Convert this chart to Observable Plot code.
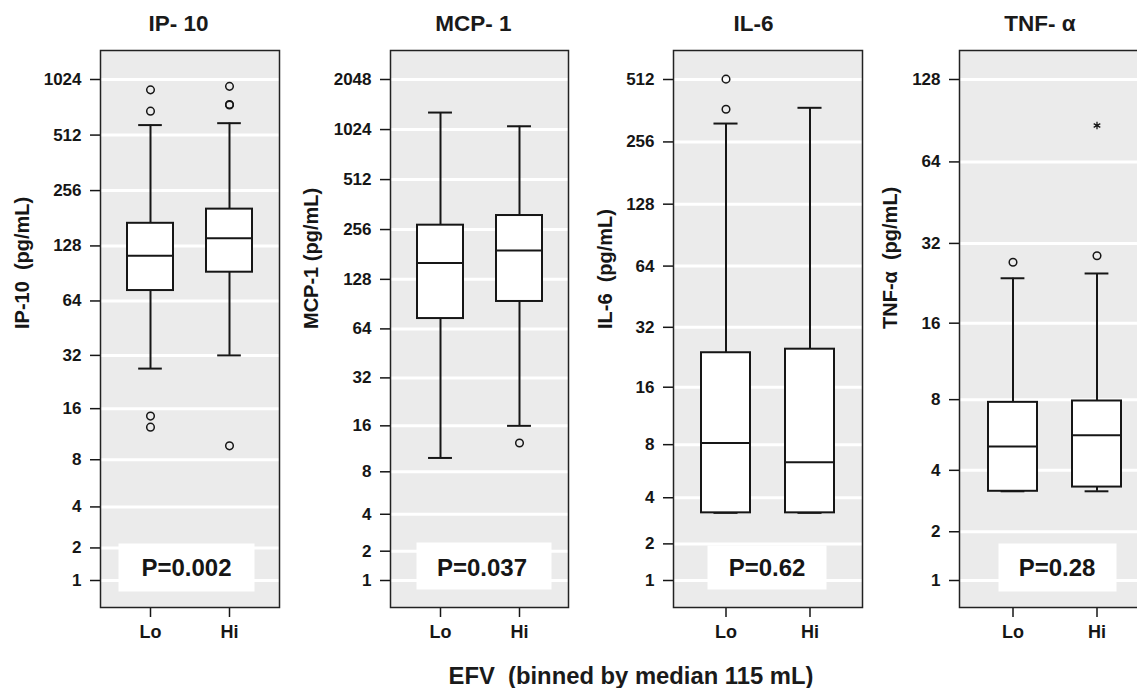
<!DOCTYPE html>
<html><head><meta charset="utf-8">
<script src="https://cdn.jsdelivr.net/npm/d3@7"></script>
<script src="https://cdn.jsdelivr.net/npm/@observablehq/plot@0.6"></script>
<style>
html,body{margin:0;padding:0;background:#fff;}
body{width:1137px;height:688px;overflow:hidden;position:relative;font-family:"Liberation Sans",Arial,sans-serif;color:#1a1a1a;}
.panel{position:absolute;top:0;}
.txt{position:absolute;font-weight:bold;line-height:1;white-space:pre;transform:translateX(-50%);}
</style></head><body>
<script>
// ---------- data ----------
const groups = ["Lo", "Hi"];
// each row: [whisker low, Q1, median, Q3, whisker high]
const ip10Box = [[27, 73, 113, 170, 580], [32, 92, 141, 203, 594]];
const ip10Outliers = [[900, 690, 14.5, 12.5], [940, 745, 750, 9.7]];
const ip10Ticks = [1, 2, 4, 8, 16, 32, 64, 128, 256, 512, 1024];

const mcp1Box = [[9.9, 74, 161, 272, 1296], [16, 94, 191, 311, 1072]];
const mcp1Outliers = [[], [12.4]];
const mcp1Ticks = [1, 2, 4, 8, 16, 32, 64, 128, 256, 512, 1024, 2048];

const il6Box = [[3.23, 3.23, 8.17, 23.9, 314], [3.23, 3.23, 6.4, 24.9, 374]];
const il6Outliers = [[514, 368], []];
const il6Ticks = [1, 2, 4, 8, 16, 32, 64, 128, 256, 512];

const tnfBox = [[3.2, 3.2, 5.1, 7.8, 23.7], [3.2, 3.35, 5.7, 7.9, 24.7]];
const tnfOutliers = [[27.2], [28.8]];
const tnfExtremes = [[], [87]];
const tnfTicks = [1, 2, 4, 8, 16, 32, 64, 128];

const titles = ["IP- 10", "MCP- 1", "IL-6", "TNF- \u03b1"];
const yLabels = ["IP-10\u00a0 (pg/mL)", "MCP-1 (pg/mL)", "IL-6\u00a0 (pg/mL)", "TNF-\u03b1\u00a0 (pg/mL)"];
const pValues = ["P=0.002", "P=0.037", "P=0.62", "P=0.28"];
const xTitle = "EFV\u00a0 (binned by median 115 mL)";

// ---------- layout (pixels) ----------
const layouts = [
  {left: 0,   width: 281, titleX: 178.5, labelDx: -78,   pBox: [18, 25, 493, 16], pDx: -3.5},
  {left: 290, width: 280, titleX: 473.5, labelDx: -78.5, pBox: [26, 17, 492, 18], pDx: 2.5},
  {left: 573, width: 291, titleX: 753.5, labelDx: -67.5, pBox: [34, 36, 495, 18], pDx: -1},
  {left: 859, width: 292, titleX: 1040,  labelDx: -68.5, pBox: [39, 33, 493, 16], pDx: 2.5}
];

const panels = [
  {box: ip10Box, out: ip10Outliers, ext: [[], []], ticks: ip10Ticks},
  {box: mcp1Box, out: mcp1Outliers, ext: [[], []], ticks: mcp1Ticks},
  {box: il6Box,  out: il6Outliers,  ext: [[], []], ticks: il6Ticks},
  {box: tnfBox,  out: tnfOutliers,  ext: tnfExtremes, ticks: tnfTicks}
];

const INK = "#161616";
const FONT = "'Liberation Sans', Arial, Helvetica, sans-serif";
const padIn = 0.42, padOut = 0.33;

panels.forEach((cfg, k) => {
  const L = layouts[k];
  const rows = groups.map((g, i) => ({group: g, lo: cfg.box[i][0], q1: cfg.box[i][1], med: cfg.box[i][2], q3: cfg.box[i][3], hi: cfg.box[i][4]}));
  const outs = groups.flatMap((g, i) => cfg.out[i].map(v => ({group: g, v})));
  const exts = groups.flatMap((g, i) => cfg.ext[i].map(v => ({group: g, v})));
  const mL = 100, mR = 2;
  const fw = L.width - mL - mR;
  const step = fw / (groups.length - padIn + 2 * padOut);
  const bw = step * (1 - padIn);
  const capInset = (bw - 24) / 2;
  const [pl, pr, pt, pb] = L.pBox;

  const chart = Plot.plot({
    width: L.width, height: 688,
    marginLeft: mL, marginRight: mR, marginTop: 50, marginBottom: 81,
    style: {fontFamily: FONT, color: INK, background: "transparent", overflow: "visible"},
    x: {type: "band", domain: groups, paddingInner: padIn, paddingOuter: padOut, label: null},
    y: {type: "symlog", constant: 1, domain: [1, cfg.ticks[cfg.ticks.length - 1]], insetTop: 29, insetBottom: 27, label: null},
    marks: [
      Plot.frame({fill: "#ebebeb"}),
      Plot.gridY(cfg.ticks, {stroke: "#ffffff", strokeOpacity: 1, strokeWidth: 3}),
      Plot.frame({fill: "#ffffff", insetLeft: pl, insetRight: pr, insetTop: pt, insetBottom: pb}),
      Plot.text([pValues[k]], {text: d => d, frameAnchor: "bottom", dy: -39, dx: L.pDx, lineAnchor: "middle", fontSize: 24, fontWeight: "bold", fill: INK}),
      Plot.ruleX(rows, {x: "group", y1: "lo", y2: "q1", stroke: INK, strokeWidth: 2}),
      Plot.ruleX(rows, {x: "group", y1: "q3", y2: "hi", stroke: INK, strokeWidth: 2}),
      Plot.tickY(rows, {x: "group", y: "lo", insetLeft: capInset, insetRight: capInset, stroke: INK, strokeWidth: 2}),
      Plot.tickY(rows, {x: "group", y: "hi", insetLeft: capInset, insetRight: capInset, stroke: INK, strokeWidth: 2}),
      Plot.barY(rows, {x: "group", y1: "q1", y2: "q3", fill: "#ffffff", stroke: INK, strokeWidth: 2}),
      Plot.tickY(rows, {x: "group", y: "med", stroke: INK, strokeWidth: 2}),
      Plot.dot(outs, {x: "group", y: "v", r: 3.8, stroke: INK, strokeWidth: 1.5, fill: "none"}),
      Plot.dot(exts, {x: "group", y: "v", symbol: "asterisk", r: 3.6, stroke: INK, strokeWidth: 1.3}),
      Plot.axisY(cfg.ticks, {tickSize: 10, tickPadding: 9, fontSize: 17, fontWeight: "bold", tickFormat: d => String(d), label: null, stroke: INK, strokeWidth: 1.5, fill: INK}),
      Plot.text([yLabels[k]], {text: d => d, frameAnchor: "left", dx: L.labelDx, rotate: -90, lineAnchor: "middle", fontSize: 20, fontWeight: "bold", fill: INK}),
      Plot.axisX({tickSize: 10, tickPadding: 8, fontSize: 18, fontWeight: "bold", label: null, stroke: INK, strokeWidth: 1.5, fill: INK}),
      Plot.frame({stroke: "#222", strokeWidth: 1.5})
    ]
  });
  chart.classList.add("panel");
  chart.style.left = L.left + "px";
  document.body.appendChild(chart);

  const t = document.createElement("div");
  t.className = "txt";
  t.textContent = titles[k];
  t.style.fontSize = "22.5px";
  t.style.left = L.titleX + "px";
  t.style.top = (32.5 - 0.8465 * 22.5) + "px";
  document.body.appendChild(t);
});

const xt = document.createElement("div");
xt.className = "txt";
xt.textContent = xTitle;
xt.style.fontSize = "23.8px";
xt.style.left = "631px";
xt.style.top = (684.5 - 0.8465 * 23.8) + "px";
document.body.appendChild(xt);
</script>
</body></html>
